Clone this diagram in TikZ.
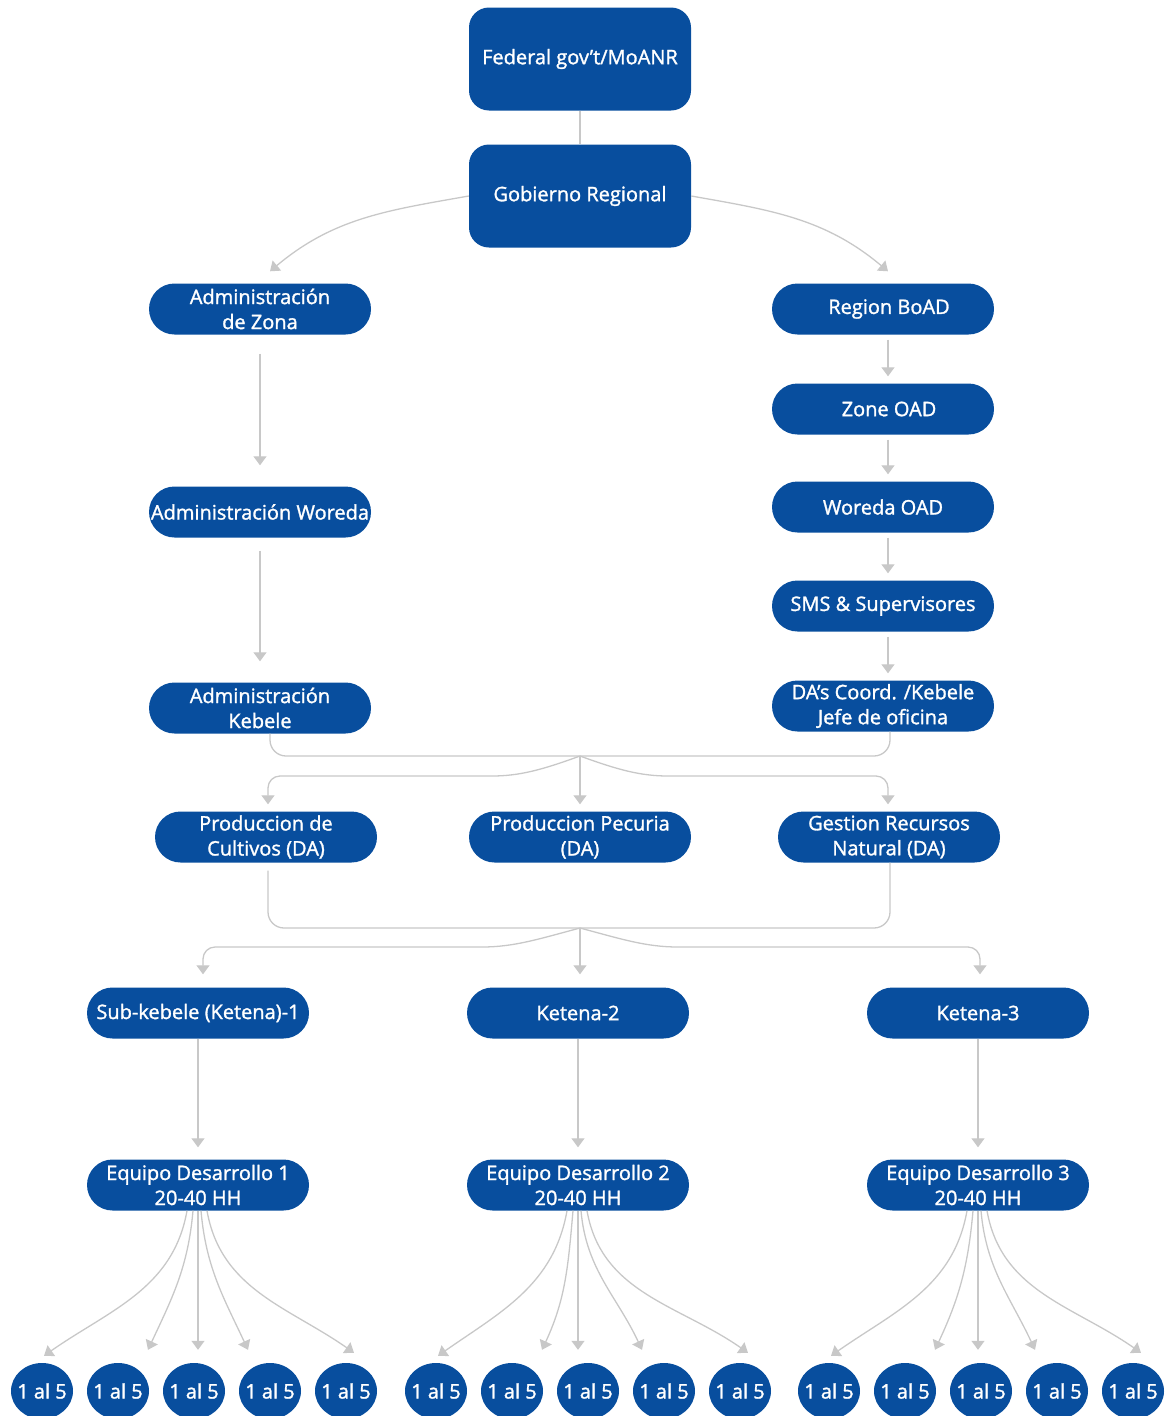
\documentclass[tikz,border=0pt]{standalone}
\usepackage{fontspec}
\newfontfamily\boxfont{Open Sans}[FakeBold=1.4]
\usetikzlibrary{arrows.meta, shapes.geometric}

\definecolor{orgblue}{RGB}{8,78,158}
\definecolor{linkgray}{RGB}{200,200,200}

\begin{document}
\begin{tikzpicture}[x=1pt, y=1pt, >={Triangle[width=13pt,length=9pt]},
    every node/.style={font=\boxfont\fontsize{20}{25}\selectfont, text=white},
    block/.style={fill=orgblue, rounded corners=20pt, minimum width=222pt, minimum height=103pt, align=center},
    pill/.style={fill=orgblue, rounded corners=25.5pt, minimum width=222pt, minimum height=51pt, inner sep=1pt, align=center},
    dot/.style={ellipse, fill=orgblue, minimum width=62pt, minimum height=56pt, inner sep=0pt},
    link/.style={draw=linkgray, line width=1.3pt},
    arr/.style={link, ->}]
        \useasboundingbox (0,0) rectangle (1166,-1416);

        % Nivel federal y regional
        \node[block] (fed) at (580,-59) {Federal gov’t/MoANR};
        \node[block] (gob) at (580,-196) {Gobierno Regional};
        \draw[link] (fed) -- (gob);

        % Rama administrativa
        \node[pill] (zona) at (260,-309) {Administración\\de Zona};
        \node[pill] (woreda) at (260,-512) {Administración Woreda};
        \node[pill] (kebele) at (260,-708) {Administración\\Kebele};

        % Rama de agricultura
        \node[pill] (boad) at (883,-309) {\hspace{12pt}Region BoAD};
        \node[pill] (zoad) at (883,-409) {\hspace{12pt}Zone OAD};
        \node[pill] (woad) at (883,-507) {Woreda OAD};
        \node[pill] (sms) at (883,-606) {SMS \& Supervisores};
        \node[pill] (coord) at (883,-706) {DA’s Coord. /Kebele\\Jefe de oficina};

        \draw[arr] (gob.west) to[out=190, in=40] ([xshift=10pt, yshift=12pt]zona.north);
        \draw[arr] (gob.east) to[out=-10, in=140] ([xshift=5pt, yshift=12pt]boad.north);
        \draw[arr, shorten <=19pt, shorten >=21pt] (zona) -- (woreda);
        \draw[arr, shorten <=13pt, shorten >=21pt] (woreda) -- (kebele);
        \foreach \a/\b in {boad/zoad, zoad/woad, woad/sms, sms/coord}
            \draw[arr, shorten <=5pt, shorten >=7pt] ([xshift=5pt]\a.south) -- ([xshift=5pt]\b.north);

        % Agentes de desarrollo (DA)
        \node[pill] (cult) at (266,-837) {Produccion de\\Cultivos (DA)};
        \node[pill] (pec) at (580,-837) {Produccion Pecuria\\(DA)};
        \node[pill] (rec) at (889,-837) {Gestion Recursos\\Natural (DA)};

        \coordinate (j1) at (580,-756);
        \draw[link, rounded corners=16pt] ([xshift=10pt]kebele.south) |- (j1) -| ([xshift=7pt]coord.south);
        \draw[arr, rounded corners=12pt] (j1) to[out=200, in=0] (480,-776) -| ([xshift=2pt, yshift=7pt]cult.north);
        \draw[arr] (j1) -- ([yshift=7pt]pec.north);
        \draw[arr, rounded corners=12pt] (j1) to[out=-20, in=180] (680,-776) -| ([xshift=-1pt, yshift=7pt]rec.north);

        % Ketenas
        \node[pill] (ket1) at (198,-1013) {Sub-kebele (Ketena)-1};
        \node[pill] (ket2) at (578,-1013) {Ketena-2};
        \node[pill] (ket3) at (978,-1013) {Ketena-3};

        \coordinate (j2) at (580,-928);
        \draw[link, rounded corners=16pt] ([xshift=2pt, yshift=-8pt]cult.south) |- (j2) -| ([xshift=1pt]rec.south);
        \draw[arr, rounded corners=12pt] (j2) to[out=195, in=0] (470,-947) -| ([xshift=5pt, yshift=13pt]ket1.north);
        \draw[arr] (j2) -- ([xshift=2pt, yshift=13pt]ket2.north);
        \draw[arr, rounded corners=12pt] (j2) to[out=-15, in=180] (690,-947) -| ([xshift=2pt, yshift=13pt]ket3.north);

        % Equipos de desarrollo
        \node[pill] (eq1) at (198,-1185) {Equipo Desarrollo 1\\20-40 HH};
        \node[pill] (eq2) at (578,-1185) {Equipo Desarrollo 2\\20-40 HH};
        \node[pill] (eq3) at (978,-1185) {Equipo Desarrollo 3\\20-40 HH};
        \foreach \g in {1,2,3}
            \draw[arr, shorten >=12pt] (ket\g) -- (eq\g);

        % Grupos 1 al 5
        \foreach \g/\m in {1/194, 2/588, 3/981} {
            \foreach \k in {1,...,5}
                \node[dot] (d\g\k) at ({\m+(\k-3)*76},-1391) {\makebox[0pt]{1 al 5}};
            \draw[arr] ([xshift=-11pt]eq\g.south) to[out=-100, in=35] ([xshift=2pt, yshift=7pt]d\g1.north);
            \draw[arr] ([xshift=-5pt]eq\g.south) to[out=-95, in=65] ([xshift=30pt, yshift=13pt]d\g2.north);
            \draw[arr, shorten >=13pt] (eq\g.south) -- (eq\g.south |- d\g3.north);
            \draw[arr] ([xshift=3pt]eq\g.south) to[out=-85, in=115] ([xshift=-22pt, yshift=13pt]d\g4.north);
            \draw[arr] ([xshift=9pt]eq\g.south) to[out=-80, in=145] ([xshift=8pt, yshift=10pt]d\g5.north);
        }

\end{tikzpicture}
\end{document}
